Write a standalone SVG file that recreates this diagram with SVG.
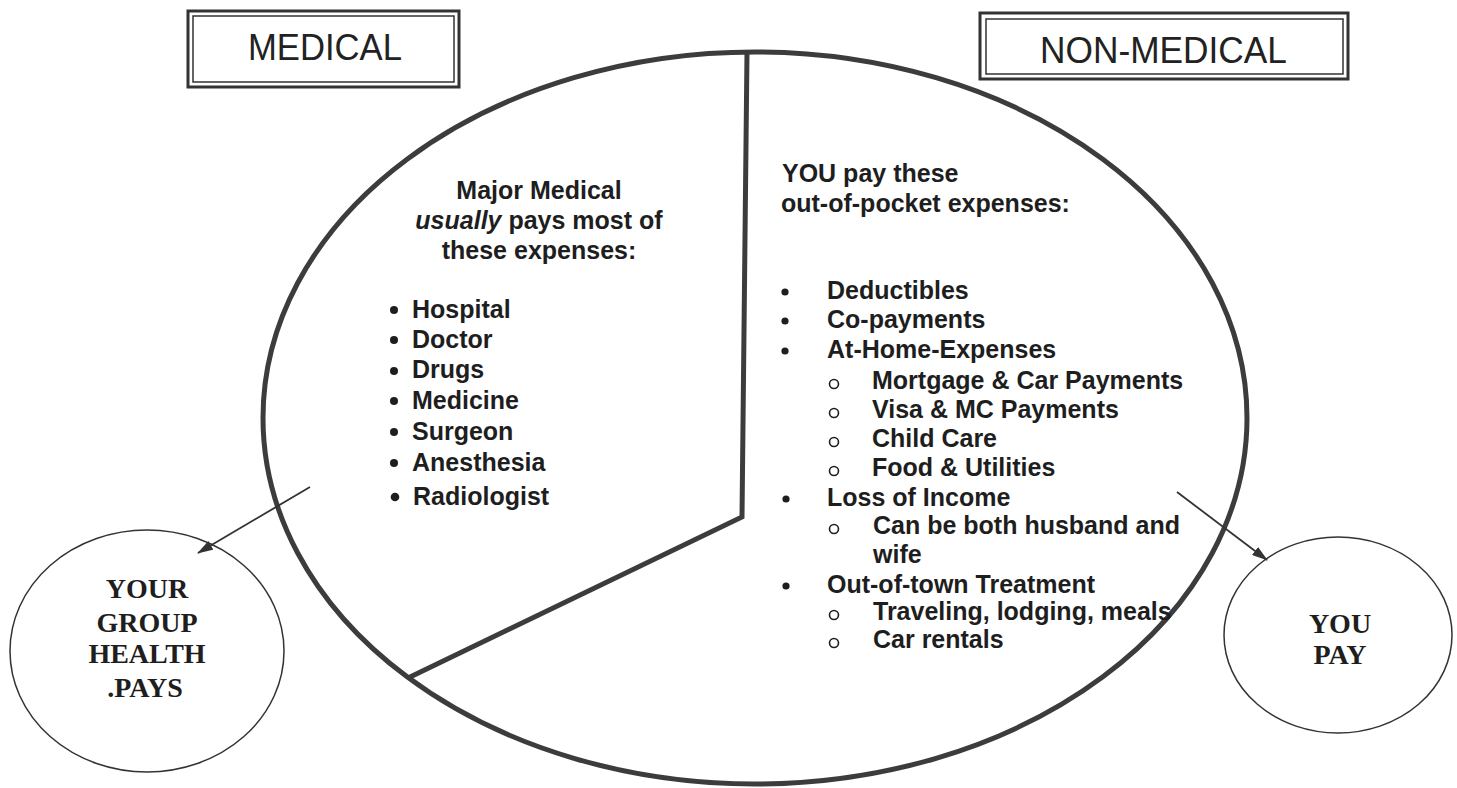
<svg xmlns="http://www.w3.org/2000/svg" width="1457" height="788" viewBox="0 0 1457 788">
<defs>
<style>
.hdr{font-family:"Liberation Sans",Arial,sans-serif;font-size:37px;fill:#222;letter-spacing:0}
.body{font-family:"Liberation Sans",Arial,sans-serif;font-size:25px;font-weight:bold;fill:#1e1e1e}
.circ{font-family:"Liberation Serif","Times New Roman",serif;font-size:28px;font-weight:bold;fill:#1e1e1e;text-anchor:middle}
.dot{fill:#1e1e1e}
.odot{fill:none;stroke:#1e1e1e;stroke-width:1.6}
.outer{fill:none;stroke:#333;stroke-width:3}
.inner{fill:none;stroke:#333;stroke-width:1.5}
.big{fill:none;stroke:#3c3c3c;stroke-width:5}
.small{fill:none;stroke:#333;stroke-width:1.5}
.conn{fill:none;stroke:#333;stroke-width:1.8}
</style>
<marker id="arr" viewBox="0 0 10 10" refX="9" refY="5" markerWidth="9" markerHeight="9" markerUnits="userSpaceOnUse" orient="auto">
<path d="M0,0 L10,5 L0,10 z" fill="#333"/>
</marker>
<marker id="arrL" viewBox="0 0 16 10" refX="15" refY="5" markerWidth="16" markerHeight="10" markerUnits="userSpaceOnUse" orient="auto">
<path d="M0,0 L16,5 L0,10 z" fill="#333"/>
</marker>
</defs>
<rect width="1457" height="788" fill="#fff"/>

<g id="medical-box">
<rect class="outer" x="188" y="11" width="271" height="76"/>
<rect class="inner" x="193" y="16" width="261" height="66"/>
<text class="hdr" x="248" y="60" textLength="154" lengthAdjust="spacingAndGlyphs">MEDICAL</text>
</g>

<g id="nonmedical-box">
<rect class="outer" x="980" y="13" width="368" height="66"/>
<rect class="inner" x="986" y="19" width="357" height="55"/>
<text class="hdr" x="1040" y="63" textLength="247" lengthAdjust="spacingAndGlyphs">NON-MEDICAL</text>
</g>

<g id="main-ellipse">
<ellipse class="big" cx="755" cy="418" rx="492" ry="366"/>
<path class="big" d="M747,52 L742,517 L408,678" stroke-width="4"/>
</g>

<g id="medical-text">
<text class="body" x="539" y="199" text-anchor="middle">Major Medical</text>
<text class="body" x="539" y="229" text-anchor="middle"><tspan font-style="italic">usually</tspan> pays most of</text>
<text class="body" x="539" y="259" text-anchor="middle">these expenses:</text>
<circle class="dot" cx="394" cy="310" r="4"/>
<circle class="dot" cx="394" cy="340" r="4"/>
<circle class="dot" cx="394" cy="371" r="4"/>
<circle class="dot" cx="394" cy="401" r="4"/>
<circle class="dot" cx="394" cy="432" r="4"/>
<circle class="dot" cx="394" cy="463" r="4"/>
<circle class="dot" cx="395" cy="497" r="4.3"/>
<text class="body" x="412" y="318">Hospital</text>
<text class="body" x="412" y="348">Doctor</text>
<text class="body" x="412" y="378">Drugs</text>
<text class="body" x="412" y="409">Medicine</text>
<text class="body" x="412" y="440">Surgeon</text>
<text class="body" x="412" y="471">Anesthesia</text>
<text class="body" x="413" y="505">Radiologist</text>
</g>

<g id="nonmedical-text">
<text class="body" x="782" y="182">YOU pay these</text>
<text class="body" x="781" y="212">out-of-pocket expenses:</text>
<circle class="dot" cx="785" cy="292" r="3.6"/>
<circle class="dot" cx="785" cy="321" r="3.6"/>
<circle class="dot" cx="785" cy="351" r="3.6"/>
<circle class="odot" cx="834" cy="384" r="4.5"/>
<circle class="odot" cx="834" cy="413" r="4.5"/>
<circle class="odot" cx="834" cy="442" r="4.5"/>
<circle class="odot" cx="834" cy="471" r="4.5"/>
<circle class="dot" cx="786" cy="499" r="3.6"/>
<circle class="odot" cx="834" cy="529" r="4.5"/>
<circle class="dot" cx="786" cy="586" r="3.6"/>
<circle class="odot" cx="834" cy="615" r="4.5"/>
<circle class="odot" cx="834" cy="643" r="4.5"/>
<text class="body" x="827" y="299">Deductibles</text>
<text class="body" x="827" y="328">Co-payments</text>
<text class="body" x="827" y="358">At-Home-Expenses</text>
<text class="body" x="872" y="389">Mortgage &amp; Car Payments</text>
<text class="body" x="872" y="418">Visa &amp; MC Payments</text>
<text class="body" x="872" y="447">Child Care</text>
<text class="body" x="872" y="476">Food &amp; Utilities</text>
<text class="body" x="827" y="506">Loss of Income</text>
<text class="body" x="873" y="534">Can be both husband and</text>
<text class="body" x="873" y="563">wife</text>
<text class="body" x="827" y="593">Out-of-town Treatment</text>
<text class="body" x="873" y="620">Traveling, lodging, meals</text>
<text class="body" x="873" y="648">Car rentals</text>
</g>

<g id="group-health-pays">
<ellipse class="small" cx="147" cy="651" rx="137" ry="121"/>
<text class="circ" x="147" y="598">YOUR</text>
<text class="circ" x="147" y="632">GROUP</text>
<text class="circ" x="147" y="663">HEALTH</text>
<text class="circ" x="145" y="697">.PAYS</text>
</g>

<g id="you-pay">
<ellipse class="small" cx="1338" cy="635" rx="114" ry="98"/>
<text class="circ" x="1340" y="633">YOU</text>
<text class="circ" x="1340" y="664">PAY</text>
</g>

<g id="connectors">
<line class="conn" x1="310" y1="487" x2="198" y2="553" marker-end="url(#arrL)"/>
<line class="conn" x1="1177" y1="492" x2="1267" y2="560" marker-end="url(#arrL)"/>
</g>
</svg>
